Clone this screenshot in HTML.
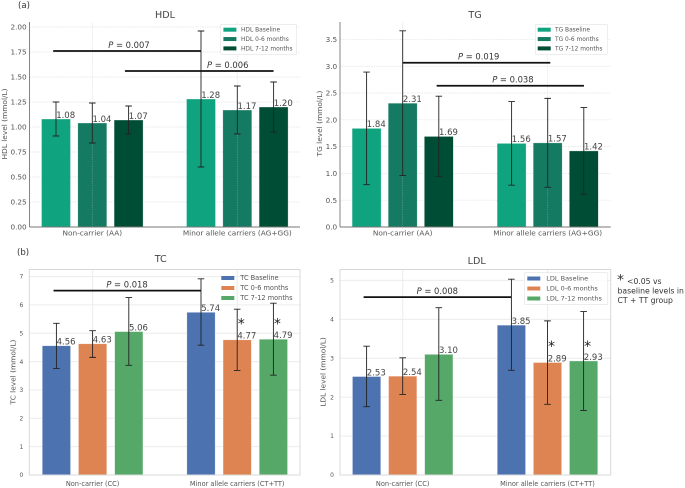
<!DOCTYPE html>
<html lang="en">
<head>
<meta charset="utf-8">
<title>Lipid levels by genotype</title>
<style>
html,body{margin:0;padding:0;background:#fff;width:685px;height:488px;overflow:hidden}
svg{display:block;font-family:"DejaVu Sans","Liberation Sans",sans-serif;filter:blur(0.35px)}
</style>
</head>
<body>
<svg id="chart" width="685" height="488" viewBox="0 0 685 488" xmlns="http://www.w3.org/2000/svg">
  <rect width="685" height="488" fill="#fff"/>
  <text x="18" y="8" font-size="8.6" fill="#333">(a)</text>
  <text x="17" y="255" font-size="8.6" fill="#333">(b)</text>
  <g fill="#333">
    <text x="617" y="284.5" font-size="14">*</text>
    <text x="627" y="283.8" font-size="7.7">&lt;0.05 vs</text>
    <text x="617.5" y="293.5" font-size="7.7">baseline levels in</text>
    <text x="617.5" y="303" font-size="7.7">CT + TT group</text>
  </g>
</svg>
<script>
// Category and series names
const hdlCategories = ['Non-carrier (AA)', 'Minor allele carriers (AG+GG)'];
const tgCategories = ['Non-carrier (AA)', 'Minor allele carriers (AG+GG)'];
const tcCategories = ['Non-carrier (CC)', 'Minor allele carriers (CT+TT)'];
const ldlCategories = ['Non-carrier (CC)', 'Minor allele carriers (CT+TT)'];
const timepoints = ['Baseline', '0-6 months', '7-12 months'];

// Means: one row per genotype group, one entry per timepoint
const hdlMeans = [[1.08, 1.04, 1.07], [1.28, 1.17, 1.20]];
const hdlLow = [[0.91, 0.84, 0.93], [0.60, 0.93, 0.95]];
const hdlHigh = [[1.25, 1.24, 1.21], [1.96, 1.41, 1.45]];

const tgMeans = [[1.84, 2.31, 1.69], [1.56, 1.57, 1.42]];
const tgLow = [[0.79, 0.96, 0.945], [0.78, 0.74, 0.61]];
const tgHigh = [[2.89, 3.66, 2.44], [2.34, 2.40, 2.23]];

const tcMeans = [[4.56, 4.63, 5.06], [5.74, 4.77, 4.79]];
const tcLow = [[3.76, 4.15, 3.87], [4.58, 3.69, 3.52]];
const tcHigh = [[5.35, 5.09, 6.26], [6.92, 5.85, 6.06]];

const ldlMeans = [[2.53, 2.54, 3.10], [3.85, 2.89, 2.93]];
const ldlLow = [[1.755, 2.07, 1.92], [2.69, 1.815, 1.66]];
const ldlHigh = [[3.31, 3.01, 4.30], [5.03, 3.96, 4.20]];

// Axis ticks
const hdlTicks = [0, 0.25, 0.5, 0.75, 1, 1.25, 1.5, 1.75, 2];
const tgTicks = [0, 0.5, 1, 1.5, 2, 2.5, 3, 3.5];
const tcTicks = [0, 1, 2, 3, 4, 5, 6, 7];
const ldlTicks = [0, 1, 2, 3, 4, 5];

// Significance brackets: from, to and label position in category units, height in mmol/L, printed text
const hdlBrackets = [[-0.27, 0.75, 0.253, 1.76, '0.007'], [0.225, 1.25, 0.934, 1.56, '0.006']];
const tgBrackets = [[0, 1.018, 0.524, 3.065, '0.019'], [0.234, 1.25, 0.76, 2.636, '0.038']];
const tcBrackets = [[-0.27, 0.75, 0.238, 6.506, '0.018']];
const ldlBrackets = [[-0.27, 0.75, 0.239, 4.57, '0.008']];

// Asterisk heights [group, timepoint, value]
const tcStars = [[1, 1, 5.42], [1, 2, 5.42]];
const ldlStars = [[1, 1, 3.37], [1, 2, 3.37]];

const greens = ['#10a37f', '#147a62', '#004d36'];
const deep = ['#4c72b0', '#dd8452', '#55a868'];

const panels = [
  {key:'hdl', title:'HDL', cats:hdlCategories, means:hdlMeans, low:hdlLow, high:hdlHigh, ticks:hdlTicks, brackets:hdlBrackets, stars:[], decimals:2,
   left:29.5, right:300, top:22, bottom:227, yMax:2.05, x0:92.3, step:145, barStep:36.3, barW:29, colors:greens, style:'a',
   yLabelX:7, yLabelMid:124, titleX:165, titleY:18, catY:235.5, legX:220.7, legY:24.3, legW:76, legH:30, swX:2.7, textX:20.3, legRow:9.35, legFirst:5.4, frame:true, legFont:5.9},
  {key:'tg', title:'TG', cats:tgCategories, means:tgMeans, low:tgLow, high:tgHigh, ticks:tgTicks, brackets:tgBrackets, stars:[], decimals:1,
   left:340, right:610.7, top:22, bottom:227, yMax:3.825, x0:402.7, step:145, barStep:36.1, barW:29, colors:greens, style:'a',
   yLabelX:322, yLabelMid:123.5, titleX:475, titleY:18, catY:235.5, legX:535.3, legY:24.3, legW:72, legH:30, swX:2.4, textX:19.7, legRow:9.35, legFirst:5.4, frame:true, legFont:5.9},
  {key:'tc', title:'TC', cats:tcCategories, means:tcMeans, low:tcLow, high:tcHigh, ticks:tcTicks, brackets:tcBrackets, stars:tcStars, decimals:0,
   left:29.3, right:300, top:269.5, bottom:475, yMax:7.25, x0:92.6, step:144.6, barStep:36.2, barW:28.3, colors:deep, style:'b',
   yLabelX:15.5, yLabelMid:372, titleX:160.7, titleY:262, catY:486, legX:216.5, legY:271.5, legW:80, legH:32, swX:4.8, textX:23.8, legRow:10, legFirst:6.5, frame:false, legFont:6.6},
  {key:'ldl', title:'LDL', cats:ldlCategories, means:ldlMeans, low:ldlLow, high:ldlHigh, ticks:ldlTicks, brackets:ldlBrackets, stars:ldlStars, decimals:0,
   left:340, right:610.7, top:269.5, bottom:475, yMax:5.28, x0:402.7, step:144.8, barStep:36.1, barW:28.3, colors:deep, style:'b',
   yLabelX:325.5, yLabelMid:372, titleX:476.7, titleY:264, catY:486, legX:524.3, legY:272.7, legW:83.5, legH:31.7, swX:3, textX:22, legRow:10, legFirst:5.8, frame:true, legFont:6.5}
];

const NS = 'http://www.w3.org/2000/svg';
const root = document.getElementById('chart');

function shape(parent, tag, props, text) {
  const el = document.createElementNS(NS, tag);
  for (const k in props) el.setAttribute(k, props[k]);
  if (text !== undefined) el.textContent = text;
  parent.appendChild(el);
  return el;
}

function fmtTick(v, d) { return d === 0 ? String(v) : v.toFixed(d); }

panels.forEach(function (p) {
  const yPos = function (v) { return p.bottom - v / p.yMax * (p.bottom - p.top); };
  const xGroup = function (g) { return p.x0 + g * p.step; };
  const xBar = function (g, s) { return xGroup(g) + (s - 1) * p.barStep; };
  const ink = '#555';
  const tickSize = p.style === 'a' ? 7.3 : 6;
  const catSize = p.style === 'a' ? 7.35 : 6.6;

  const g = shape(root, 'g', {});
  
  

  const title = shape(g, 'text', {x:p.titleX, y:p.titleY, 'font-size':9.6, 'text-anchor':'middle', fill:'#444'}, p.title);
  
  

  // horizontal grid and y ticks
  p.ticks.forEach(function (t) {
    const y = yPos(t);
    const line = shape(g, 'line', {x1:p.left, x2:p.right, y1:y, y2:y, stroke:p.style === 'a' ? '#dcdcdc' : '#ececec', 'stroke-width':p.style === 'a' ? 0.7 : 1, 'stroke-dasharray':p.style === 'a' ? '1.2 1.2' : 'none'});
    
    
    const label = shape(g, 'text', {x:p.left - (p.style === 'a' ? 2.8 : 6), y:y + tickSize * 0.36, 'font-size':tickSize, 'text-anchor':'end', fill:ink}, fmtTick(t, p.decimals));
    
    
  });

  // y axis title
  const yTitle = shape(g, 'text', {transform:'translate(' + p.yLabelX + ',' + p.yLabelMid + ') rotate(-90)', 'font-size':7.4, 'text-anchor':'middle', fill:ink}, p.title + ' level (mmol/L)');
  
  

  // vertical gridlines under bars for style b
  p.cats.forEach(function (c, i) {
    if (p.style === 'b') {
      const v = shape(g, 'line', {x1:xGroup(i), x2:xGroup(i), y1:p.top, y2:p.bottom, stroke:'#ececec', 'stroke-width':1});
      
      
    }
  });

  // bars
  p.means.forEach(function (row, gi) {
    row.forEach(function (v, si) {
      const bar = shape(g, 'rect', {x:xBar(gi, si) - p.barW / 2, y:yPos(v), width:p.barW, height:p.bottom - yPos(v), fill:p.colors[si], stroke:'rgba(255,255,255,0.55)', 'stroke-width':0.6});
      
      
    });
  });

  // vertical gridlines over bars for style a
  p.cats.forEach(function (c, i) {
    if (p.style === 'a') {
      const v = shape(g, 'line', {x1:xGroup(i), x2:xGroup(i), y1:p.top, y2:p.bottom, stroke:'rgba(190,190,190,0.55)', 'stroke-width':0.7, 'stroke-dasharray':'1.2 1.2'});
      
      
    }
  });

  // spines
  if (p.style === 'a') {
    const sl = shape(g, 'line', {x1:p.left, x2:p.left, y1:p.top, y2:p.bottom, stroke:'#777', 'stroke-width':0.9});
    
    
    const sb = shape(g, 'line', {x1:p.left, x2:p.right, y1:p.bottom, y2:p.bottom, stroke:'#777', 'stroke-width':0.9});
    
    
  } else {
    const frame = shape(g, 'rect', {x:p.left, y:p.top, width:p.right - p.left, height:p.bottom - p.top, fill:'none', stroke:'#d8d8d8', 'stroke-width':1});
    
    
  }

  // error bars and values
  p.means.forEach(function (row, gi) {
    row.forEach(function (v, si) {
      const cx = xBar(gi, si);
      const err = shape(g, 'path', {d:'M' + (cx - 3.3) + ' ' + yPos(p.high[gi][si]) + 'H' + (cx + 3.3) + 'M' + cx + ' ' + yPos(p.high[gi][si]) + 'V' + yPos(p.low[gi][si]) + 'M' + (cx - 3.3) + ' ' + yPos(p.low[gi][si]) + 'H' + (cx + 3.3), fill:'none', stroke:'#222', 'stroke-width':0.9});
      
      
      const val = shape(g, 'text', {x:cx + 0.2, y:yPos(v) - 1.2, 'font-size':8.5, fill:'#444'}, v.toFixed(2));
      
      
    });
  });

  // category labels
  p.cats.forEach(function (c, i) {
    const t = shape(g, 'text', {x:xGroup(i), y:p.catY, 'font-size':catSize, 'text-anchor':'middle', fill:ink}, c);
    
    
  });

  // significance brackets
  p.brackets.forEach(function (b) {
    const y = yPos(b[3]);
    const l = shape(g, 'line', {x1:xGroup(b[0]), x2:xGroup(b[1]), y1:y, y2:y, stroke:'#111', 'stroke-width':1.8});
    
    
    const t = shape(g, 'text', {x:xGroup(b[2]), y:y - 3, 'font-size':8.4, 'text-anchor':'middle', fill:'#333'});
    
    
    shape(t, 'tspan', {'font-style':'italic'}, 'P');
    shape(t, 'tspan', {}, ' = ' + b[4]);
  });

  // significance asterisks
  p.stars.forEach(function (s) {
    const t = shape(g, 'text', {x:xBar(s[0], s[1]) + 4, y:yPos(s[2]) + 7.2, 'font-size':14, 'text-anchor':'middle', fill:'#222'}, '*');
    
    
  });

  // legend
  const leg = shape(g, 'g', {});
  
  
  if (p.frame) {
    const box = shape(leg, 'rect', {x:p.legX, y:p.legY, width:p.legW, height:p.legH, rx:1, fill:'rgba(255,255,255,0.85)', stroke:'#e2e2e2', 'stroke-width':0.6});
    
    
  }
  timepoints.forEach(function (name, i) {
    const ry = p.legY + p.legFirst + i * p.legRow;
    const sw = shape(leg, 'rect', {x:p.legX + p.swX, y:ry - 2, width:13, height:4, fill:p.colors[i]});
    
    
    const t = shape(leg, 'text', {x:p.legX + p.textX, y:ry + 2, 'font-size':p.legFont, fill:'#555'}, p.title + ' ' + name);
    
    
  });
});
</script>
</body>
</html>
